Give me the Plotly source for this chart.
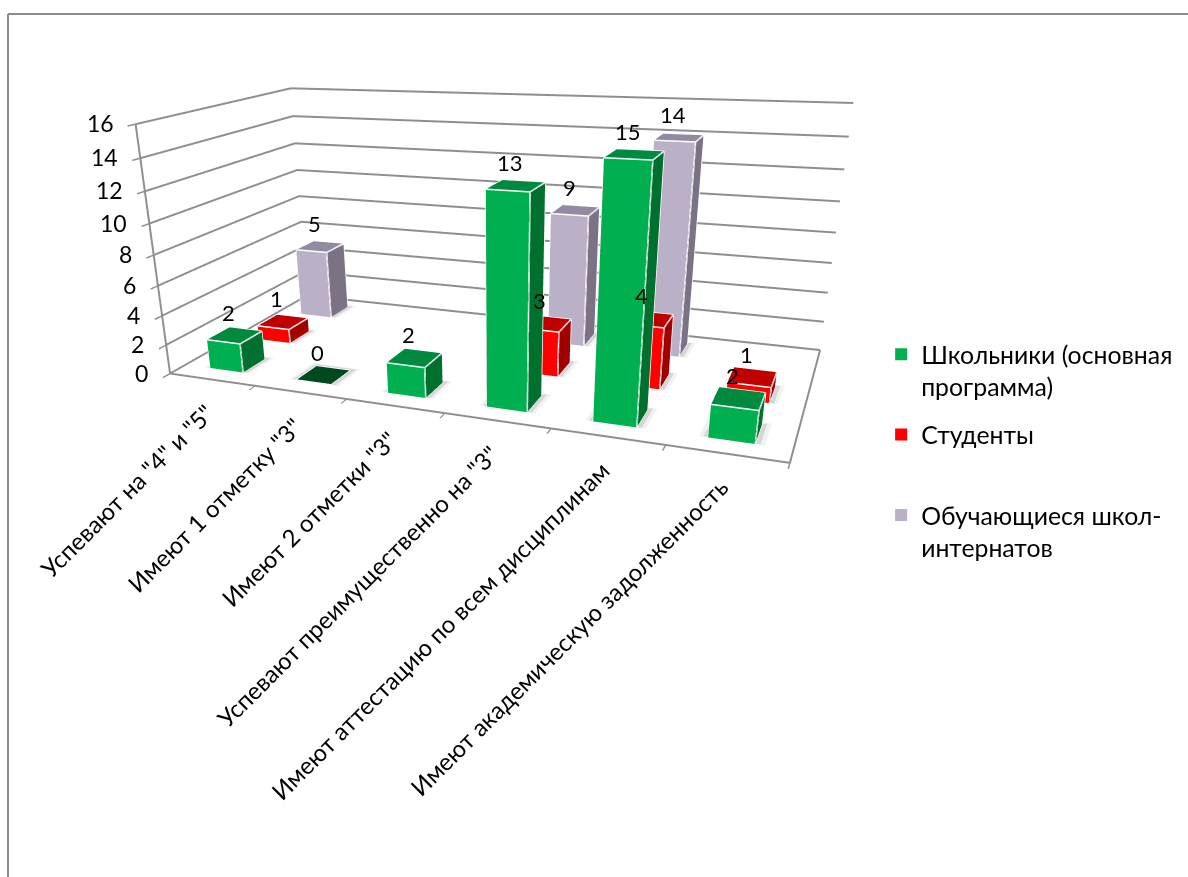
import plotly.graph_objects as go

categories = ['Успевают на "4" и "5"', 'Имеют 1 отметку "3"', 'Имеют 2 отметки "3"',
              'Успевают преимущественно на "3"', 'Имеют аттестацию по всем дисциплинам',
              'Имеют академическую задолженность']
series_names = ['Школьники (основная<br>программа)', 'Студенты<br> ', 'Обучающиеся школ-<br>интернатов']
green_values = [2, 0, 2, 13, 15, 2]
red_values = [1, None, None, 3, 4, 1]
purple_values = [5, None, None, 9, 14, None]
z_ticks = [0, 2, 4, 6, 8, 10, 12, 14, 16]

W, H = 1188, 877
BW, BD = 0.389, 0.437
FLAT = dict(ambient=1, diffuse=0, specular=0, roughness=1, fresnel=0)
GRID = '#8E8E8E'
all_values = [green_values, red_values, purple_values]

fig = go.Figure()


def shadow(grow, shift, level, color):
    X, Y, Z, I, J, K = [], [], [], [], [], []
    for row, vals in enumerate(all_values):
        for c, v in enumerate(vals):
            if v is None:
                continue
            x0, x1 = c + 1 - BW / 2 - grow, c + 1 + BW / 2 + grow
            y0, y1 = row + 0.5 - BD / 2 - grow * 0.4 + shift, row + 0.5 + BD / 2 + grow * 0.6 + shift
            n = len(X)
            X += [x0, x1, x1, x0]
            Y += [y0, y0, y1, y1]
            Z += [level] * 4
            I += [n, n]
            J += [n + 1, n + 2]
            K += [n + 2, n + 3]
    fig.add_trace(go.Mesh3d(x=X, y=Y, z=Z, i=I, j=J, k=K, color=color, flatshading=True, showlegend=False,
                            hoverinfo='skip', lighting=FLAT))


def bars(vals, row, front, top, side, name):
    X, Y, Z, I, J, K, FC = [], [], [], [], [], [], []
    lx, ly, lz = [], [], []
    faces = [(0, 1, 5, 4, front), (4, 5, 6, 7, top), (1, 2, 6, 5, side), (2, 3, 7, 6, side), (3, 0, 4, 7, side)]
    base = 0.02
    for c, v in enumerate(vals):
        if v is None:
            continue
        x0, x1 = c + 1 - BW / 2, c + 1 + BW / 2
        y0, y1 = row + 0.5 - BD / 2, row + 0.5 + BD / 2
        n = len(X)
        X += [x0, x1, x1, x0, x0, x1, x1, x0]
        Y += [y0, y0, y1, y1, y0, y0, y1, y1]
        Z += [base] * 4 + [v + base] * 4
        for a, b, cc, d, col in faces:
            if v == 0 and (a, b) != (4, 5):
                continue
            if v == 0:
                col = '#00491F'
            I += [n + a, n + a]
            J += [n + b, n + cc]
            K += [n + cc, n + d]
            FC += [col, col]
        for a, b in [(0, 1), (1, 2), (4, 5), (5, 6), (6, 7), (7, 4), (0, 4), (1, 5), (2, 6)]:
            lx += [X[n + a], X[n + b], None]
            ly += [Y[n + a], Y[n + b], None]
            lz += [Z[n + a], Z[n + b], None]
    fig.add_trace(go.Mesh3d(x=X, y=Y, z=Z, i=I, j=J, k=K, facecolor=FC, flatshading=True, name=name,
                            showlegend=False, hoverinfo='skip', lighting=FLAT))
    fig.add_trace(go.Scatter3d(x=lx, y=ly, z=lz, mode='lines', line=dict(color='white', width=3),
                               showlegend=False, hoverinfo='skip'))


shadow(0.075, 0.03, 0.005, '#F1F1F1')
shadow(0.04, 0.03, 0.01, '#D6D6D6')
bars(green_values, 0, '#00B050', '#008A3F', '#00702F', series_names[0])
bars(red_values, 1, '#FF0000', '#C00000', '#A00000', series_names[1])
bars(purple_values, 2, '#BAB0C8', '#918AA0', '#7B7385', series_names[2])

for i, (n_, c) in enumerate(zip(series_names, ['#00B050', '#FF0000', '#BAB0C8'])):
    fig.add_trace(go.Scatter(x=[None], y=[None], mode='markers', name=n_, legendgroup=str(i),
                             marker=dict(symbol='square', size=12, color=c)))

ann = []
for row, vals in enumerate(all_values):
    for c, v in enumerate(vals):
        if v is None:
            continue
        ann.append(dict(x=c + 1, y=row + 0.5, z=v, text=str(v), showarrow=False, yanchor='bottom', xshift=-6, yshift=8,
                        font=dict(size=22, color='black', family='Lato')))
for c, t in enumerate(categories):
    ann.append(dict(x=c + 1, y=0, z=0, text=t, showarrow=False, textangle=-45, xanchor='right', yanchor='top',
                    xshift=10, yshift=-16, font=dict(size=24, color='black', family='Lato')))
for v in z_ticks:
    ann.append(dict(x=0.5, y=0, z=v, text=str(v), showarrow=False, xanchor='right', xshift=-20, yshift=1,
                    font=dict(size=23, color='black', family='Lato')))

axc = dict(showbackground=False, title=dict(text=''), showspikes=False, linecolor=GRID, linewidth=4, zeroline=False)
fig.update_layout(
    width=W, height=H, margin=dict(l=0, r=0, t=0, b=0), paper_bgcolor='white', plot_bgcolor='white', hovermode=False,
    font=dict(family='Lato', color='black'),
    xaxis=dict(visible=False), yaxis=dict(visible=False),
    legend=dict(x=0.7417, y=0.622, xanchor='left', yanchor='top', font=dict(size=24.8, family='Lato'),
                itemclick=False, itemdoubleclick=False, bgcolor='rgba(0,0,0,0)', valign='top', tracegroupgap=13),
    scene=dict(
        domain=dict(x=[0, 880 / W], y=[0, 1]), aspectmode='manual',
        aspectratio=dict(x=1.0, y=0.4682, z=0.4057),
        camera=dict(eye=dict(x=0.5734, y=-1.5863, z=0.4286), center=dict(x=-0.0528, y=-0.1335, z=-0.2966),
                    up=dict(x=-0.3862, y=0.9162, z=-0.1069), projection=dict(type='perspective')),
        xaxis=dict(axc, range=[0.5, 6.5], tickvals=[0.5, 1.5, 2.5, 3.5, 4.5, 5.5, 6.5], showticklabels=False,
                   showgrid=False, ticks='outside', ticklen=8, tickcolor=GRID, tickwidth=3, showline=True),
        yaxis=dict(axc, range=[0, 3], tickvals=[], showticklabels=False, showgrid=False, showline=True),
        zaxis=dict(axc, range=[0, 16], tickvals=z_ticks, showticklabels=False, showgrid=True, gridcolor=GRID,
                   gridwidth=4, ticks='outside', ticklen=8, tickcolor=GRID, tickwidth=3, showline=True),
        annotations=ann),
    shapes=[dict(type='line', xref='paper', yref='paper', x0=8 / W, x1=1, y0=1 - 14 / H, y1=1 - 14 / H,
                 line=dict(color='#8C8C8C', width=2)),
            dict(type='line', xref='paper', yref='paper', x0=8 / W, x1=8 / W, y0=1 - 14 / H, y1=0,
                 line=dict(color='#8C8C8C', width=2))])
fig.write_html("out.html", config=dict(displayModeBar=False), post_script="document.body.style.margin='0';")
